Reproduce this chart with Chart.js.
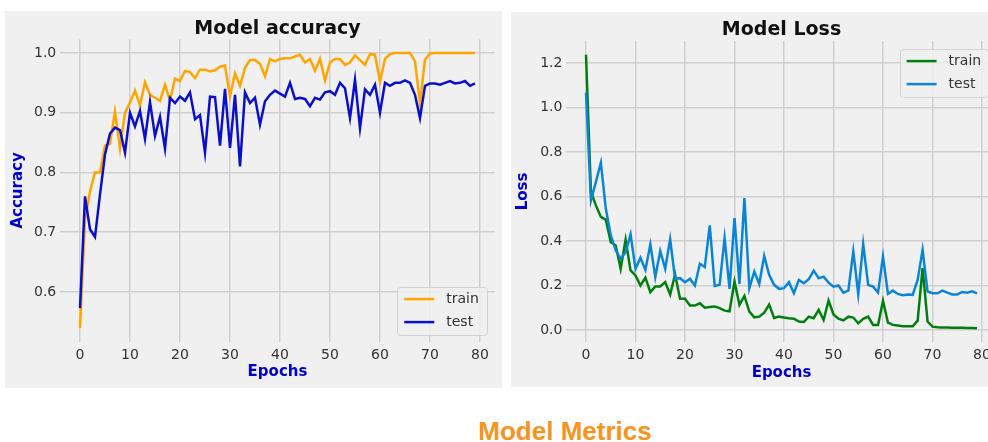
<!DOCTYPE html>
<html>
<head>
<meta charset="utf-8">
<script src="https://cdn.jsdelivr.net/npm/chart.js@4.4.1/dist/chart.umd.min.js"></script>
<style>
  html, body { margin: 0; padding: 0; background: #fff; width: 988px; height: 442px; overflow: hidden; }
  .panel { position: absolute; background: #f0f0f0; }
  #left { left: 5px; top: 11px; width: 497px; height: 377px; }
  #right { left: 511px; top: 12px; width: 497px; height: 375px; }
  #caption {
    position: absolute; left: 365px; width: 400px; top: 418px;
    text-align: center; font: bold 26px "Liberation Sans", Arial, sans-serif;
    line-height: 26px; color: #f7941d;
  }
</style>
</head>
<body>
<div class="panel" id="left"><canvas id="accChart" width="497" height="377"></canvas></div>
<div class="panel" id="right"><canvas id="lossChart" width="497" height="375"></canvas></div>
<div id="caption">Model Metrics</div>

<script>
// epochs 0..79
const epochs = [0,1,2,3,4,5,6,7,8,9,10,11,12,13,14,15,16,17,18,19,
  20,21,22,23,24,25,26,27,28,29,30,31,32,33,34,35,36,37,38,39,
  40,41,42,43,44,45,46,47,48,49,50,51,52,53,54,55,56,57,58,59,
  60,61,62,63,64,65,66,67,68,69,70,71,72,73,74,75,76,77,78,79];

const accTrain = [0.54,0.72,0.768,0.80,0.80,0.845,0.848,0.902,0.84,0.90,
  0.917,0.937,0.912,0.951,0.93,0.925,0.92,0.947,0.92,0.957,
  0.953,0.97,0.968,0.958,0.972,0.972,0.969,0.971,0.977,0.979,
  0.927,0.966,0.945,0.975,0.988,0.988,0.982,0.961,0.99,0.986,
  0.99,0.991,0.991,0.994,0.997,0.984,0.99,0.97,0.99,0.954,
  0.984,0.99,0.99,0.98,0.984,0.996,0.988,0.98,0.998,0.997,
  0.952,0.99,0.998,1.0,1.0,1.0,1.0,0.986,0.915,0.989,
  0.999,1.0,1.0,1.0,1.0,1.0,1.0,1.0,1.0,1.0];

const accTest = [0.573,0.76,0.705,0.692,0.763,0.83,0.865,0.875,0.871,0.833,
  0.90,0.877,0.903,0.856,0.918,0.861,0.893,0.84,0.925,0.916,
  0.927,0.92,0.934,0.889,0.896,0.833,0.927,0.926,0.845,0.94,
  0.841,0.93,0.81,0.934,0.916,0.925,0.88,0.919,0.93,0.937,
  0.932,0.927,0.95,0.923,0.925,0.923,0.911,0.925,0.922,0.934,
  0.936,0.93,0.95,0.941,0.891,0.955,0.874,0.939,0.93,0.947,
  0.90,0.95,0.945,0.95,0.95,0.954,0.95,0.93,0.891,0.945,
  0.949,0.949,0.947,0.95,0.953,0.949,0.95,0.953,0.945,0.949];

const lossTrain = [1.237,0.62,0.56,0.508,0.496,0.395,0.38,0.275,0.406,0.268,
  0.245,0.20,0.235,0.17,0.196,0.196,0.215,0.159,0.25,0.14,
  0.14,0.11,0.11,0.12,0.1,0.103,0.106,0.098,0.087,0.084,
  0.218,0.113,0.153,0.083,0.057,0.06,0.078,0.114,0.054,0.06,
  0.056,0.053,0.051,0.038,0.036,0.06,0.053,0.09,0.045,0.132,
  0.07,0.051,0.043,0.06,0.056,0.03,0.05,0.06,0.023,0.023,
  0.132,0.033,0.023,0.02,0.017,0.017,0.017,0.042,0.278,0.038,
  0.015,0.012,0.011,0.011,0.01,0.01,0.01,0.009,0.009,0.008];

const lossTest = [1.068,0.583,0.666,0.752,0.546,0.426,0.358,0.32,0.35,0.43,
  0.275,0.325,0.27,0.385,0.238,0.355,0.275,0.408,0.23,0.233,
  0.215,0.23,0.2,0.298,0.283,0.47,0.198,0.203,0.413,0.185,
  0.503,0.207,0.593,0.188,0.263,0.207,0.333,0.248,0.203,0.185,
  0.188,0.215,0.165,0.225,0.21,0.228,0.267,0.233,0.24,0.213,
  0.195,0.2,0.168,0.177,0.353,0.162,0.387,0.203,0.195,0.168,
  0.33,0.162,0.177,0.162,0.156,0.16,0.158,0.225,0.36,0.173,
  0.165,0.165,0.177,0.168,0.16,0.16,0.171,0.168,0.174,0.165];

const xTicks = [0,10,20,30,40,50,60,70,80];
const accTicks = [0.6,0.7,0.8,0.9,1.0];
const lossTicks = [0.0,0.2,0.4,0.6,0.8,1.0,1.2];

Chart.defaults.font.family = '"DejaVu Sans", sans-serif';

// title centred over the plot area, like matplotlib
const panelTitle = {
  id: 'panelTitle',
  afterDraw(chart, args, o) {
    const {ctx, chartArea: a} = chart;
    ctx.save();
    ctx.font = 'bold 19px "DejaVu Sans"';
    ctx.fillStyle = '#111';
    ctx.textAlign = 'center';
    ctx.textBaseline = 'alphabetic';
    ctx.fillText(o.text, (a.left + a.right) / 2, o.y);
    ctx.restore();
  }
};

// boxed legend inside the plot area
const boxLegend = {
  id: 'boxLegend',
  afterDraw(chart, args, o) {
    const {ctx, chartArea: a} = chart;
    const w = o.width, h = 48;
    const x = a.right - o.right - w;
    const y = o.corner === 'top' ? a.top + o.inset : a.bottom - o.inset - h;
    ctx.save();
    ctx.fillStyle = 'rgba(240,240,240,0.85)';
    ctx.strokeStyle = '#d2d2d2';
    ctx.lineWidth = 1;
    ctx.beginPath();
    ctx.roundRect(Math.round(x) + 0.5, Math.round(y) + 0.5, w, h, 3);
    ctx.fill();
    ctx.stroke();
    ctx.font = '14px "DejaVu Sans"';
    ctx.textBaseline = 'middle';
    chart.data.datasets.forEach((ds, i) => {
      const ly = y + 12 + i * 23;
      ctx.strokeStyle = ds.borderColor;
      ctx.lineWidth = 2.5;
      ctx.beginPath();
      ctx.moveTo(x + 7, ly);
      ctx.lineTo(x + 37, ly);
      ctx.stroke();
      ctx.fillStyle = '#333';
      ctx.fillText(ds.label, x + 49, ly);
    });
    ctx.restore();
  }
};

const gridColor = '#cfcfcf';
const axisBlue = '#0000cd';

function metricChart(id, c) {
  return new Chart(document.getElementById(id), {
    type: 'line',
    data: {
      labels: epochs,
      datasets: [
        { label: 'train', data: c.train, borderColor: c.colors[0], order: 1 },
        { label: 'test', data: c.test, borderColor: c.colors[1], order: 0 }
      ]
    },
    options: {
      responsive: false,
      animation: false,
      layout: { padding: c.padding },
      elements: {
        point: { radius: 0 },
        line: { borderWidth: 2.5, tension: 0, fill: false }
      },
      plugins: {
        legend: { display: false },
        tooltip: { enabled: false },
        panelTitle: { text: c.title, y: 23 },
        boxLegend: c.legend
      },
      scales: {
        x: {
          type: 'linear',
          min: -3.95,
          max: 82.95,
          afterBuildTicks: s => { s.ticks = xTicks.map(v => ({ value: v })); },
          afterFit: s => { s.height = 40; },
          grid: { color: gridColor, lineWidth: 1.5, drawTicks: false },
          border: { display: false },
          ticks: { padding: 5, color: '#333', font: { size: 14 }, callback: v => String(v) },
          title: { display: true, text: 'Epochs', color: axisBlue, font: { size: 15, weight: 'bold' }, padding: 0 }
        },
        y: {
          min: c.yMin,
          max: c.yMax,
          afterBuildTicks: s => { s.ticks = c.yTicks.map(v => ({ value: v })); },
          afterFit: s => { s.width = c.yWidth; },
          grid: { color: gridColor, lineWidth: 1.5, drawTicks: false },
          border: { display: false },
          ticks: { padding: 4, color: '#333', font: { size: 14 }, callback: v => v.toFixed(1) },
          title: { display: true, text: c.yTitle, color: axisBlue, font: { size: 15, weight: 'bold' }, padding: { top: c.yTitlePad, bottom: 0 } }
        }
      }
    },
    plugins: [panelTitle, boxLegend]
  });
}

metricChart('accChart', {
  title: 'Model accuracy',
  yTitle: 'Accuracy',
  train: accTrain,
  test: accTest,
  colors: ['#ffa500', '#0a10c8'],
  yMin: 0.517, yMax: 1.023, yTicks: accTicks,
  yWidth: 55.25, yTitlePad: 4,
  padding: { top: 28.2, right: 7.25, bottom: 6.4, left: 0 },
  legend: { corner: 'bottom', width: 90, right: 7.5, inset: 6.5 }
});

metricChart('lossChart', {
  title: 'Model Loss',
  yTitle: 'Loss',
  train: lossTrain,
  test: lossTest,
  colors: ['#007f0e', '#0a85d5'],
  yMin: -0.0535, yMax: 1.2985, yTicks: lossTicks,
  yWidth: 55.45, yTitlePad: 3,
  padding: { top: 29.1, right: 11.4, bottom: 5.1, left: 0 },
  legend: { corner: 'top', width: 88, right: 9, inset: 8 }
});
</script>
</body>
</html>
